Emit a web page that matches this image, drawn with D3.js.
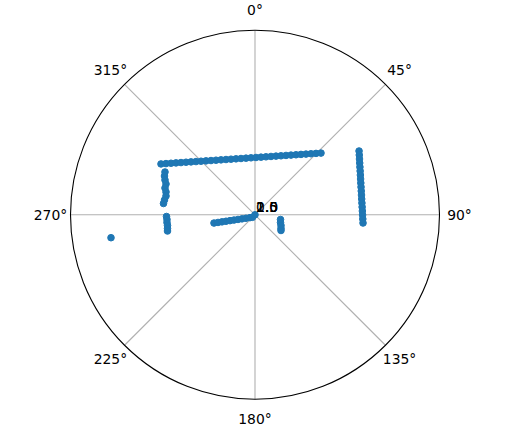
<!DOCTYPE html>
<html><head><meta charset="utf-8">
<script src="https://cdn.jsdelivr.net/npm/d3@7"></script>
<style>body{margin:0;background:#fff}svg{display:block}</style>
</head><body>
<svg id="chart" width="509" height="436"></svg>
<script>
// ---- tick definitions ----
const thetaTickValues = [0, 45, 90, 135, 180, 225, 270, 315];
const thetaTickLabels = ["0°", "45°", "90°", "135°", "180°", "225°", "270°", "315°"];
const rTickValues = [0.5, 1.0, 1.5, 2.0];
const rTickLabels = ["0.5", "1.0", "1.5", "2.0"];
const rMax = 1845;

// ---- data (theta in degrees, clockwise from north; r in data units) ----
const topWallTheta = [298.42,299.92,301.54,303.30,305.22,307.31,309.58,312.06,314.78,317.74,320.96,324.46,328.25,332.32,336.66,341.25,346.03,350.97,355.98,1.00,5.94,10.74,15.34,19.69,23.78,27.58,31.09,34.33,37.30,40.03,42.53,44.82,46.92];
const topWallR = [1068.8,1026.8,985.6,945.2,905.8,867.4,830.3,794.7,760.7,728.6,698.6,671.0,646.1,624.3,605.8,591.0,580.1,573.5,571.2,573.2,579.6,590.2,604.9,623.2,644.8,669.6,697.1,727.0,759.0,792.9,828.4,865.4,903.6];

const rightWallTheta = [58.49,60.17,61.90,63.68,65.51,67.39,69.31,71.27,73.27,75.31,77.38,79.47,81.58,83.70,85.84,87.97,90.11,92.23,94.34];
const rightWallR = [1220.5,1202.0,1184.6,1168.2,1153.0,1139.1,1126.4,1114.9,1104.9,1096.2,1088.9,1083.1,1078.6,1075.7,1074.2,1074.3,1075.8,1078.8,1083.3];

const leftUpperTheta = [295.43,293.20,291.14,289.09,286.58,284.37,281.92,279.28,277.04];
const leftUpperR = [996.6,984.7,964.9,941.8,939.1,918.7,909.6,917.0,922.0];

const leftLowerTheta = [268.90,266.94,265.00,263.03,261.10,259.51];
const leftLowerR = [885.2,881.3,883.4,881.5,885.7,889.9];

const lowerSegTheta = [258.63,258.32,257.95,257.46,256.83,255.96,254.70,252.70,249.03,240.32,225.0];
const lowerSegR = [418.2,377.8,337.4,297.1,256.8,216.5,176.2,136.2,96.4,57.5,35.4];

const smallSegTheta = [100.44,106.80,112.37,117.78,121.12];
const smallSegR = [259.3,266.4,281.2,293.9,303.7];

const outlierTheta = [260.96];
const outlierR = [1458.1];

const originTheta = [0];
const originR = [0];

// ---- layout ----
const W = 509, H = 436;
const cx = 255, cy = 214.8, R = 184.5;
const svg = d3.select("#chart");
svg.append("rect").attr("width", W).attr("height", H).attr("fill", "#fff");
const g = svg.append("g").attr("transform", `translate(${cx},${cy})`);

const angle = d3.scaleLinear().domain([0, 360]).range([0, 2 * Math.PI]);
const radius = d3.scaleLinear().domain([0, rMax]).range([0, R]);

// gridlines (angular)
g.selectAll("line.tgrid").data(thetaTickValues).join("line")
  .attr("class", "tgrid")
  .attr("x1", 0).attr("y1", 0)
  .attr("x2", d => d3.pointRadial(angle(d), R)[0])
  .attr("y2", d => d3.pointRadial(angle(d), R)[1])
  .attr("stroke", "#b0b0b0").attr("stroke-width", 1.1);

// radial grid circles
g.selectAll("circle.rgrid").data(rTickValues).join("circle")
  .attr("class", "rgrid")
  .attr("r", d => radius(d))
  .attr("fill", "none").attr("stroke", "#b0b0b0").attr("stroke-width", 0.5);

// outer spine
g.append("circle").attr("r", R).attr("fill", "none").attr("stroke", "#000").attr("stroke-width", 1.1);

// points
const segments = [
  [topWallTheta, topWallR],
  [rightWallTheta, rightWallR],
  [leftUpperTheta, leftUpperR],
  [leftLowerTheta, leftLowerR],
  [lowerSegTheta, lowerSegR],
  [smallSegTheta, smallSegR],
  [outlierTheta, outlierR],
  [originTheta, originR]
];
const pts = [];
segments.forEach(([th, rr]) => th.forEach((t, i) => pts.push({t, r: rr[i]})));
g.selectAll("circle.pt").data(pts).join("circle")
  .attr("class", "pt")
  .attr("cx", d => d3.pointRadial(angle(d.t), radius(d.r))[0])
  .attr("cy", d => d3.pointRadial(angle(d.t), radius(d.r))[1])
  .attr("r", 3.3)
  .attr("fill", "#1f77b4")
  .attr("stroke", "#1f77b4").attr("stroke-width", 1);

// theta tick labels
const font = "DejaVu Sans, sans-serif";
g.selectAll("text.tlab").data(thetaTickValues).join("text")
  .attr("class", "tlab")
  .attr("x", d => d3.pointRadial(angle(d), R + 20)[0])
  .attr("y", d => d3.pointRadial(angle(d), R + 20)[1])
  .attr("text-anchor", "middle")
  .attr("dominant-baseline", "central")
  .attr("font-family", font).attr("font-size", 13.9).attr("fill", "#000")
  .text((d, i) => thetaTickLabels[i]);

// radial tick labels (at 22.5°)
g.selectAll("text.rlab").data(rTickValues).join("text")
  .attr("class", "rlab")
  .attr("x", d => d3.pointRadial(angle(22.5), radius(d))[0] + 1)
  .attr("y", d => d3.pointRadial(angle(22.5), radius(d))[1] - 2.5)
  .attr("text-anchor", "start")
  .attr("font-family", font).attr("font-size", 13.9).attr("fill", "#000")
  .text((d, i) => rTickLabels[i]);
</script>
</body></html>
